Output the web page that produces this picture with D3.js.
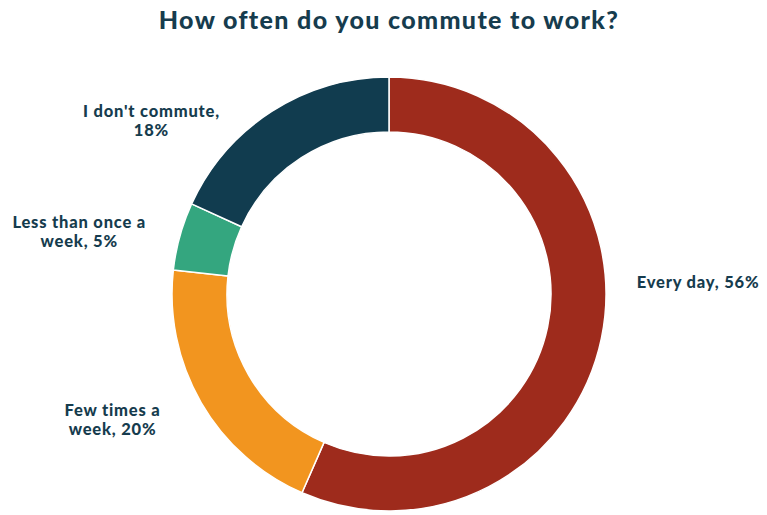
<!DOCTYPE html>
<html>
<head>
<meta charset="utf-8">
<script src="https://cdn.jsdelivr.net/npm/d3@7"></script>
<style>
  html, body { margin: 0; padding: 0; background: #ffffff; }
  svg { display: block; }
  text { font-family: Lato, "Open Sans", sans-serif; font-weight: 900; fill: #163c4e; }
</style>
</head>
<body>
<svg id="chart" width="767" height="515"></svg>
<script>
// Survey answers, in clockwise order from 12 o'clock
const categories = ["Every day", "Few times a week", "Less than once a week", "I don't commute"];
const shares = [56, 20, 5, 18];
const colors = ["#9e2b1c", "#f2951f", "#34a67f", "#113c4f"];
const title = "How often do you commute to work?";
// Label line breaks and small position nudges per slice
const labelLines = [
  ["Every day, 56%"],
  ["Few times a", "week, 20%"],
  ["Less than once a", "week, 5%"],
  ["I don't commute,", "18%"]
];
const labelNudge = [[3, -63], [-12, 1], [-2, 4], [-34, 37]];

const width = 767, height = 515;
const cx = 389, cy = 294;
const outerR = 217, innerR = 162, labelR = 250;

const svg = d3.select("#chart");

svg.append("text")
  .attr("x", cx)
  .attr("y", 29)
  .attr("text-anchor", "middle")
  .style("font-size", "25px")
  .style("letter-spacing", "1.35px")
  .text(title);

const data = categories.map((c, i) => ({ name: c, value: shares[i], color: colors[i], lines: labelLines[i], nudge: labelNudge[i] }));

const pie = d3.pie().sort(null).value(d => d.value);
const arcs = pie(data);

const arc = d3.arc().innerRadius(innerR).outerRadius(outerR);
const labelArc = d3.arc().innerRadius(labelR).outerRadius(labelR);

const g = svg.append("g").attr("transform", `translate(${cx},${cy})`);

g.selectAll("path.slice")
  .data(arcs)
  .join("path")
  .attr("class", "slice")
  .attr("d", arc)
  .attr("fill", d => d.data.color)
  .attr("stroke", "#ffffff")
  .attr("stroke-width", 1.5)
  .attr("stroke-linejoin", "round");

const fontSize = 16.5, lineH = 19;

const labels = g.selectAll("g.label")
  .data(arcs)
  .join("g")
  .attr("class", "label");

labels.each(function(d) {
  const [px, py] = labelArc.centroid(d);
  const mid = (d.startAngle + d.endAngle) / 2;
  const right = mid < Math.PI;
  const x = px + d.data.nudge[0];
  const y = py + d.data.nudge[1];
  const n = d.data.lines.length;
  // One text element per line, centered within the label block
  const texts = d.data.lines.map((line, i) =>
    d3.select(this).append("text")
      .style("font-size", fontSize + "px")
      .style("letter-spacing", "0.8px")
      .attr("y", y + (i - (n - 1) / 2) * lineH)
      .attr("dy", "0.35em")
      .attr("text-anchor", "middle")
      .text(line));
  const w = d3.max(texts, t => t.node().getComputedTextLength());
  const centerX = right ? x + w / 2 : x - w / 2;
  texts.forEach(t => t.attr("x", centerX));
});
</script>
</body>
</html>
